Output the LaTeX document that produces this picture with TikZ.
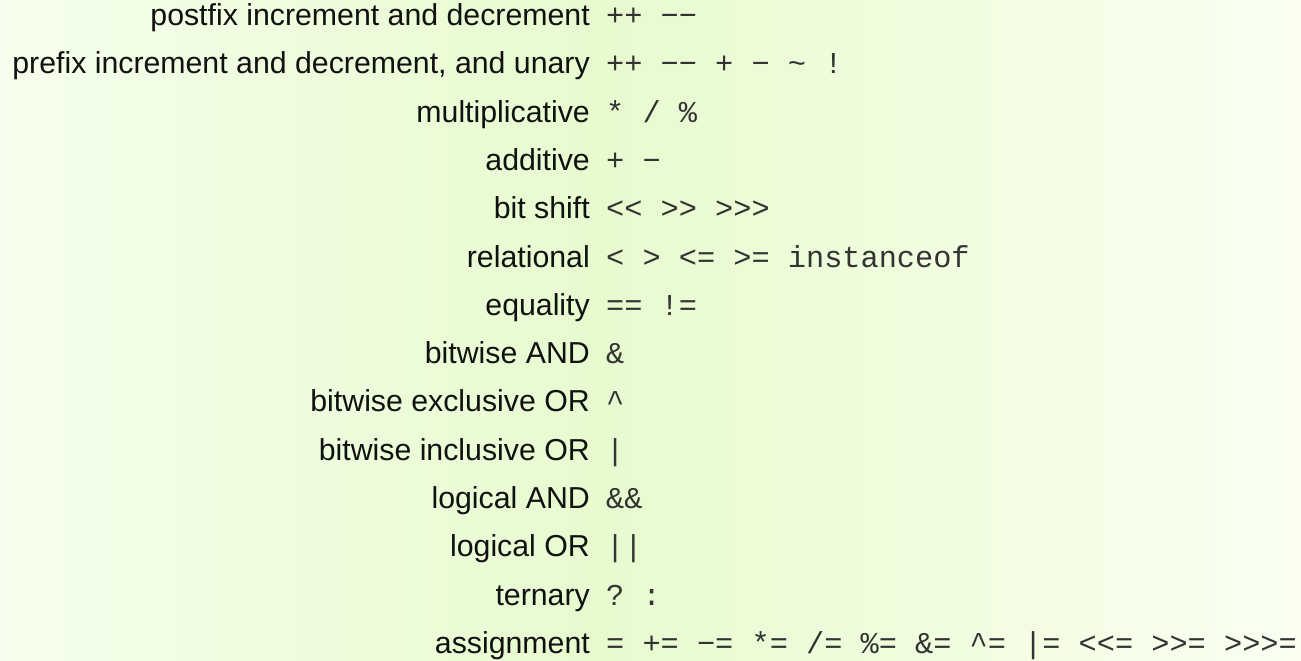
\documentclass[tikz,border=0pt]{standalone}
\usepackage{fontspec}
\setmainfont{Liberation Sans}
\setmonofont{Liberation Mono}
\definecolor{bgL}{RGB}{245,254,236}
\definecolor{bgM}{RGB}{231,251,207}
\definecolor{bgR}{RGB}{250,255,241}
\definecolor{lblc}{RGB}{17,17,17}
\definecolor{opc}{RGB}{51,51,51}
\newcommand{\mn}{\char"2212{}}
\begin{document}
\begin{tikzpicture}[x=1bp,y=-1bp,
  lbl/.style={anchor=base east,inner sep=0pt,text=lblc,font=\fontsize{30.4}{36}\selectfont},
  op/.style={anchor=base west,inner sep=0pt,text=opc,font=\ttfamily\fontsize{30.4}{36}\selectfont}]
\useasboundingbox (0,0) rectangle (1301,660);
\shade[left color=bgL,right color=bgM] (0,0) rectangle (600,660);
\shade[left color=bgM,right color=bgR] (600,0) rectangle (1301,660);
\node[lbl] (l0) at (590,25.5) {postfix increment and decrement};
\node[op] (o0) at (606,25.5) {++ \mn\mn};
\node[lbl] (l1) at (590,73.8) {prefix increment and decrement, and unary};
\node[op] (o1) at (606,73.8) {++ \mn\mn{} + \mn{} \textasciitilde{} !};
\node[lbl] (l2) at (590,122.1) {multiplicative};
\node[op] (o2) at (606,122.1) {* / \%};
\node[lbl] (l3) at (590,170.4) {additive};
\node[op] (o3) at (606,170.4) {+ \mn};
\node[lbl] (l4) at (590,218.7) {bit shift};
\node[op] (o4) at (606,218.7) {<{}< >{}> >{}>{}>};
\node[lbl] (l5) at (590,267) {relational};
\node[op] (o5) at (606,267) {< > <= >= instanceof};
\node[lbl] (l6) at (590,315.3) {equality};
\node[op] (o6) at (606,315.3) {== !=};
\node[lbl] (l7) at (590,363.6) {bitwise AND};
\node[op] (o7) at (606,363.6) {\&};
\node[lbl] (l8) at (590,411.9) {bitwise exclusive OR};
\node[op] (o8) at (606,411.9) {\textasciicircum};
\node[lbl] (l9) at (590,460.2) {bitwise inclusive OR};
\node[op] (o9) at (606,460.2) {|};
\node[lbl] (l10) at (590,508.5) {logical AND};
\node[op] (o10) at (606,508.5) {\&\&};
\node[lbl] (l11) at (590,556.8) {logical OR};
\node[op] (o11) at (606,556.8) {||};
\node[lbl] (l12) at (590,605.1) {ternary};
\node[op] (o12) at (606,605.1) {? :};
\node[lbl] (l13) at (590,653.4) {assignment};
\node[op] (o13) at (606,653.4) {= += \mn= *= /= \%= \&= \textasciicircum= |= <{}<= >{}>= >{}>{}>=};
\end{tikzpicture}
\end{document}
